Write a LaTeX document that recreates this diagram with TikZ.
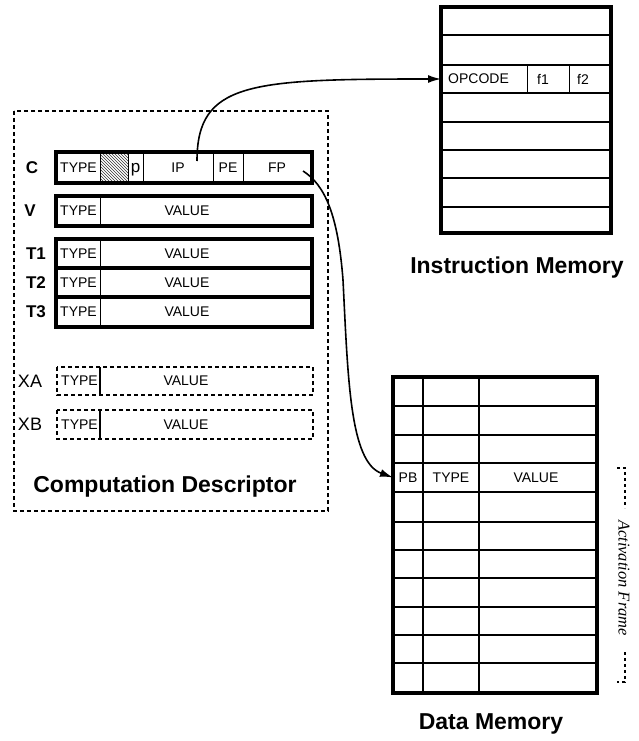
\documentclass[tikz,border=0pt]{standalone}
\usepackage{fontspec}
\setmainfont{Liberation Sans}
\newfontfamily\afserif{Liberation Serif}
\usetikzlibrary{patterns,arrows.meta}
\begin{document}
\begin{tikzpicture}[x=1pt,y=-1pt,
  heavy/.style={line width=3.4pt},
  light/.style={line width=1pt},
  mid/.style={line width=1.8pt},
  cell/.style={inner sep=0pt,font=\fontsize{14}{16}\selectfont},
  rowlabel/.style={inner sep=0pt,font=\fontsize{17}{19}\selectfont\bfseries},
  xlabel/.style={inner sep=0pt,font=\fontsize{18}{20}\selectfont},
  title/.style={inner sep=0pt,font=\fontsize{23}{26}\selectfont\bfseries},
  cddash/.style={line width=2pt,dash pattern=on 4pt off 3pt},
  xdash/.style={line width=1.6pt,dash pattern=on 4pt off 3pt},
  memory/.style={draw,line width=3.6pt,inner sep=0pt,outer sep=0pt,anchor=north west},
  ptr/.style={line width=1.6pt,-{Latex[length=13pt,width=8pt]}},
  afdash/.style={line width=1.5pt,dash pattern=on 3pt off 3pt}
]
\useasboundingbox (0,0) rectangle (639,741);

% ---------------- Computation Descriptor ----------------
\draw[cddash] (14,111) rectangle (328,511);

% C row
\fill[pattern=north west lines,pattern color=black!80] (100,154) rectangle (128,181);
\draw[light] (100,152) -- (100,183);
\draw[light] (128,152) -- (128,183);
\draw[light] (143,152) -- (143,183);
\draw[light] (213,152) -- (213,183);
\draw[light] (243,152) -- (243,183);
\draw[heavy] (56,152) rectangle (312,183);
\node[rowlabel] (lc) at (32,168) {C};
\node[cell] (ctype) at (78.5,167.5) {TYPE};
\node[cell,font=\fontsize{17}{19}\selectfont,anchor=base] (cp) at (135.5,172.5) {p};
\node[cell] (cip) at (178,167.5) {IP};
\node[cell] (cpe) at (228,167.5) {PE};
\node[cell] (cfp) at (277,167.5) {FP};

% V row
\draw[heavy] (56,196) rectangle (312,226);
\draw[light] (100,196) -- (100,226);
\node[rowlabel] (lv) at (30,211) {V};
\node[cell] (vtype) at (78.5,211) {TYPE};
\node[cell] (vval) at (187,211) {VALUE};

% T rows
\draw[heavy] (56,239) rectangle (312,327);
\draw[heavy] (56,268) -- (312,268);
\draw[heavy] (56,297) -- (312,297);
\draw[light] (100,239) -- (100,327);
\node[rowlabel] (lt1) at (36,253.5) {T1};
\node[rowlabel] (lt2) at (36,282.5) {T2};
\node[rowlabel] (lt3) at (36,311.5) {T3};
\node[cell] (t1type) at (78.5,253.5) {TYPE};
\node[cell] (t1val) at (187,253.5) {VALUE};
\node[cell] (t2type) at (78.5,282.5) {TYPE};
\node[cell] (t2val) at (187,282.5) {VALUE};
\node[cell] (t3type) at (78.5,311.5) {TYPE};
\node[cell] (t3val) at (187,311.5) {VALUE};

% XA / XB rows
\draw[xdash] (57,367) rectangle (313,395);
\draw[mid] (100,367) -- (100,395);
\node[xlabel] (lxa) at (30,381) {XA};
\node[cell,anchor=west] (xatype) at (61,381) {TYPE};
\node[cell] (xaval) at (186,381) {VALUE};
\draw[xdash] (57,410) rectangle (313,439);
\draw[mid] (100,410) -- (100,439);
\node[xlabel] (lxb) at (30,424.5) {XB};
\node[cell,anchor=west] (xbtype) at (61,424.5) {TYPE};
\node[cell] (xbval) at (186,424.5) {VALUE};

\node[title] (cdtitle) at (165,487) {Computation Descriptor};

% ---------------- Instruction Memory ----------------
\node[memory,minimum width=170pt,minimum height=226pt] (imem) at (441,7) {};
\foreach \yy in {35,65,93,122,150,178,207}
  \draw[mid] (441,\yy) -- (611,\yy);
\draw[light] (527,65) -- (527,93);
\draw[light] (569,65) -- (569,93);
\node[cell,anchor=west] (opc) at (448,79) {OPCODE};
\node[cell,anchor=west] (f1) at (537,79) {f1};
\node[cell,anchor=west] (f2) at (577,79) {f2};
\node[title] (imtitle) at (517,268) {Instruction Memory};

% ---------------- Data Memory ----------------
\node[memory,minimum width=204pt,minimum height=316pt] (dmem) at (393,377) {};
\foreach \yy in {406,435,463,492,522,550,578,607,635,663}
  \draw[mid] (393,\yy) -- (597,\yy);
\draw[mid] (423,377) -- (423,693);
\draw[mid] (479,377) -- (479,693);
\node[cell] (pb) at (408,477.5) {PB};
\node[cell] (dtype) at (451,477.5) {TYPE};
\node[cell] (dval) at (536,477.5) {VALUE};
\node[title] (dmtitle) at (491,724) {Data Memory};

% Activation frame bracket
\draw[afdash] (617,468) -- (625,468) -- (625,508);
\node[rotate=-90,inner sep=0pt,font=\afserif\itshape\fontsize{16.5}{18}\selectfont] (af) at (624,578) {Activation Frame};
\draw[afdash] (625,652) -- (625,682) -- (617,682);

% ---------------- Pointers ----------------
\coordinate (ipsrc) at (197,161);
\coordinate (fpsrc) at (303,171);
\draw[ptr] (ipsrc) .. controls (197,82) and (250,79) .. (imem.west |- opc.west);
\draw[ptr] (fpsrc) .. controls (325,185) and (338,215) .. (343,280)
                   .. controls (348,380) and (350,462) .. (dmem.west |- pb.west);
\end{tikzpicture}
\end{document}
